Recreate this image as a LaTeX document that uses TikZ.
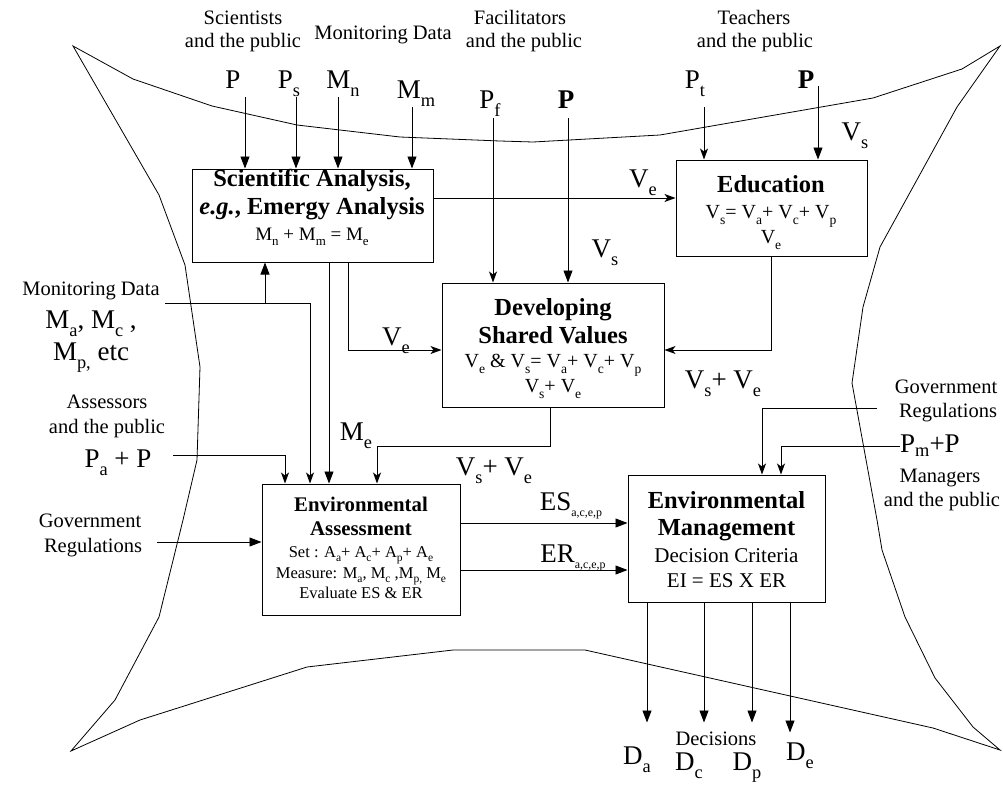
\documentclass[tikz,border=0pt]{standalone}
\usepackage{fontspec}
\setmainfont{Liberation Serif}
\usetikzlibrary{arrows.meta}
\newcommand{\lo}[1]{\raisebox{-0.3em}{\scalebox{0.68}{#1}}}
\newcommand{\los}[1]{\raisebox{-0.25em}{\scalebox{0.7}{#1}}}
\tikzset{
  box/.style={draw, line width=1pt, inner sep=0pt},
  lbl/.style={anchor=base, inner sep=0pt, font=\fontsize{20.5}{24}\selectfont},
  sym/.style={anchor=base, inner sep=0pt, font=\fontsize{27}{31}\selectfont},
  symb/.style={anchor=base, inner sep=0pt, font=\fontsize{27}{31}\selectfont\bfseries},
  ttl/.style={anchor=base, inner sep=0pt, font=\fontsize{24.5}{28}\selectfont\bfseries},
  ttls/.style={anchor=base, inner sep=0pt, font=\fontsize{20.8}{24}\selectfont\bfseries},
  eq/.style={anchor=base, inner sep=0pt, font=\fontsize{20}{23}\selectfont},
  sm/.style={anchor=base, inner sep=0pt, font=\fontsize{16.5}{19}\selectfont},
  fl/.style={line width=0.9pt, -{Triangle[length=12pt,width=9pt]}},
  th/.style={line width=0.9pt, -{Stealth[length=11pt,width=8pt,inset=3pt]}},
  ln/.style={line width=0.8pt}
}
\begin{document}
\begin{tikzpicture}[x=1pt,y=-1pt]
\useasboundingbox[fill=white] (0,0) rectangle (1003,784);

% outline
\draw[ln] (73,46) -- (133,79) -- (212,106) -- (297,125) -- (400,137) -- (500,141) -- (533,142)
  -- (660,135) -- (873,98) -- (962,69) -- (1000,46)
  -- (957,107) -- (880,247) -- (863,307) -- (852,383) -- (877,520) -- (882,550) -- (905,617)
  -- (935,678) -- (973,727) -- (1000,750)
  -- (933,728) -- (585,650) -- (453,650) -- (307,667) -- (140,720) -- (71,751)
  -- (115,700) -- (159,617) -- (183,520) -- (197,460) -- (200,367) -- (185,265) -- (159,195) -- cycle;

% boxes
\node[box, minimum width=241pt, minimum height=93pt] (SA) at (312.5,215.5) {};
\node[box, minimum width=191pt, minimum height=96pt] (ED) at (771.5,208) {};
\node[box, minimum width=222pt, minimum height=124pt] (DSV) at (553,345) {};
\node[box, minimum width=198pt, minimum height=131pt] (EA) at (361,549.5) {};
\node[box, minimum width=197pt, minimum height=127pt] (EM) at (726.5,538.5) {};

% box texts
\node[ttl] (saT1) at (312,186) {Scientific Analysis,};
\node[ttl] (saT2) at (312,214) {\textit{e.g.}, Emergy Analysis};
\node[eq, font=\fontsize{19}{22}\selectfont] (saT3) at (312,240) {M\lo{n} + M\lo{m} = M\lo{e}};

\node[ttl] (edT1) at (771,192) {Education};
\node[eq] (edT2) at (771,218) {V\lo{s}= V\lo{a}+ V\lo{c}+ V\lo{p}};
\node[eq] (edT3) at (771,243) {V\lo{e}};

\node[ttl] (dsT1) at (553,315) {Developing};
\node[ttl] (dsT2) at (553,343) {Shared Values};
\node[eq] (dsT3) at (553,367) {V\lo{e} \& V\lo{s}= V\lo{a}+ V\lo{c}+ V\lo{p}};
\node[eq] (dsT4) at (553,392) {V\lo{s}+ V\lo{e}};

\node[ttls] (eaT1) at (361,511) {Environmental};
\node[ttls] (eaT2) at (361,535) {Assessment};
\node[sm] (eaT3) at (361,557) {Set : A\los{a}+ A\los{c}+ A\los{p}+ A\los{e}};
\node[sm] (eaT4) at (361,578) {Measure: M\los{a}, M\los{c} ,M\los{p,} M\los{e}};
\node[sm] (eaT5) at (361,598) {Evaluate ES \& ER};

\node[ttl] (emT1) at (726.5,508) {Environmental};
\node[ttl] (emT2) at (726.5,535) {Management};
\node[lbl, font=\fontsize{21}{24}\selectfont] (emT3) at (726.5,562) {Decision Criteria};
\node[lbl, font=\fontsize{21}{24}\selectfont] (emT4) at (726.5,587) {EI = ES X ER};

% top labels
\node[lbl] (sci1) at (243,25) {Scientists};
\node[lbl] (sci2) at (243,48) {and the public};
\node[lbl] (mon1) at (383,40) {Monitoring Data};
\node[lbl] (fac1) at (520,25) {Facilitators};
\node[lbl] (fac2) at (524,48) {and the public};
\node[lbl] (tea1) at (754,25) {Teachers};
\node[lbl] (tea2) at (755,48) {and the public};

\node[sym] (sP) at (233,88) {P};
\node[sym] (sPs) at (289,88) {P\lo{s}};
\node[sym] (sMn) at (343,88) {M\lo{n}};
\node[sym] (sMm) at (416,98) {M\lo{m}};
\node[sym] (sPf) at (490,108) {P\lo{f}};
\node[symb] (sPb) at (566,108) {P};
\node[sym] (sPt) at (695,88) {P\lo{t}};
\node[symb] (sPb2) at (806,88) {P};

% top arrows into SA
\coordinate (cP) at (245,97);
\coordinate (cPs) at (296,97);
\coordinate (cMn) at (338,97);
\coordinate (cMm) at (412,107);
\draw[fl] (cP) -- (cP |- SA.north);
\draw[fl] (cPs) -- (cPs |- SA.north);
\draw[fl] (cMn) -- (cMn |- SA.north);
\draw[fl] (cMm) -- (cMm |- SA.north);

% arrows into DSV from top
\coordinate (cPf) at (493,118);
\coordinate (cPb) at (568,118);
\draw[th] (cPf) -- (cPf |- DSV.north);
\draw[fl] (cPb) -- (cPb |- DSV.north);
\node[sym] (lVs1) at (605,257) {V\lo{s}};

% arrows into ED
\coordinate (cPt) at (704,107);
\coordinate (cPb2) at (818,86);
\draw[th] (cPt) -- (cPt |- ED.north);
\draw[fl] (cPb2) -- (cPb2 |- ED.north);
\node[sym] (lVs2) at (855,140) {V\lo{s}};

% SA -> ED
\draw[th] ([yshift=17.5pt]SA.east) -- ([yshift=10pt]ED.west);
\node[sym] (lVe1) at (643,187) {V\lo{e}};

% ED -> DSV
\draw[th] (ED.south) |- ([yshift=-5pt]DSV.east);
\node[sym] (lVsVe1) at (723,388) {V\lo{s}+ V\lo{e}};

% SA -> DSV and SA -> EA
\draw[th] ([xshift=35.5pt]SA.south) |- ([yshift=-5pt]DSV.west);
\node[sym] (lVe2) at (396,345) {V\lo{e}};
\draw[fl] ([xshift=16.5pt]SA.south) -- ([xshift=-32pt]EA.north);

% Monitoring data left
\node[lbl] (mon2) at (91,295) {Monitoring Data};
\node[sym] (mon3) at (91,328) {M\lo{a}, M\lo{c} ,};
\node[sym] (mon4) at (91,360) {M\lo{p,} etc};
\coordinate (cMd) at (165,303);
\coordinate (cMdb) at (265,303);
\draw[th] (cMd) -| ([xshift=-51pt]EA.north);
\draw[fl] (cMdb) -- (cMdb |- SA.south);

% Assessors
\node[lbl] (ass1) at (107,408) {Assessors};
\node[lbl] (ass2) at (107,433) {and the public};
\node[sym] (ass3) at (118,467) {P\lo{a} + P};
\coordinate (cPa) at (173,455);
\draw[th] (cPa) -| ([xshift=-76pt]EA.north);

% Government left
\node[lbl] (gov1) at (90,527) {Government};
\node[lbl] (gov2) at (93,552) {Regulations};
\coordinate (cGl) at (157,542);
\draw[fl] (cGl) -- (cGl -| EA.west);

% DSV -> EA (M_e)
\draw[th] ([xshift=-3pt]DSV.south) -- ++(0,39) -| ([xshift=16pt]EA.north);
\node[sym] (lMe) at (356,440) {M\lo{e}};
\node[sym] (lVsVe2) at (494,475) {V\lo{s}+ V\lo{e}};

% EA -> EM
\draw[fl] ([yshift=26.5pt]EA.east) -- ([yshift=26.5pt]EA.east -| EM.west);
\draw[fl] ([yshift=-20.5pt]EA.east) -- ([yshift=-20.5pt]EA.east -| EM.west);
\node[sym] (lES) at (571,510) {ES\los{\fontsize{17}{19}\selectfont a,c,e,p}};
\node[sym] (lER) at (573,562) {ER\los{\fontsize{17}{19}\selectfont a,c,e,p}};

% Government right
\node[lbl] (gov3) at (946,393) {Government};
\node[lbl] (gov4) at (948,417) {Regulations};
\coordinate (cGr) at (877,408);
\draw[th] (cGr) -| ([xshift=35.5pt]EM.north);

% Managers
\node[sym, anchor=base west] (pm) at (900,452) {P\raisebox{-0.18em}{\scalebox{0.68}{m}}+P};
\node[lbl] (man1) at (940,482) {Managers};
\node[lbl] (man2) at (942,506) {and the public};
\coordinate (cPm) at (900,446);
\draw[th] (cPm) -| ([xshift=54.5pt]EM.north);

% Decisions
\draw[fl] ([xshift=-79.5pt]EM.south) -- ++(0,120);
\draw[fl] ([xshift=-22.5pt]EM.south) -- ++(0,120);
\draw[fl] ([xshift=25.5pt]EM.south) -- ++(0,120);
\draw[fl] ([xshift=63.5pt]EM.south) -- ++(0,130);
\node[lbl] (dec) at (716,745) {Decisions};
\node[sym] (dA) at (637,764) {D\lo{a}};
\node[sym] (dC) at (689,770) {D\lo{c}};
\node[sym] (dP) at (747,770) {D\lo{p}};
\node[sym] (dE) at (800,760) {D\lo{e}};
\end{tikzpicture}
\end{document}
